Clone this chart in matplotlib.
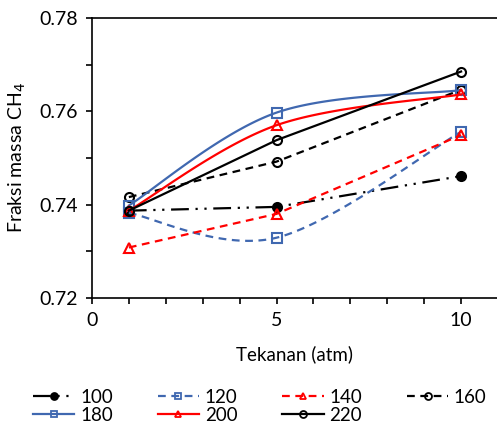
import matplotlib
matplotlib.use('Agg')
import matplotlib.pyplot as plt
import numpy as np
from matplotlib.ticker import MultipleLocator

plt.rcParams['font.family'] = ['Lato', 'DejaVu Sans']
plt.rcParams['font.size'] = 13

# pressure (atm)
x = [1, 5, 10]

# mass fraction CH4 per series
y100 = [0.7387, 0.7395, 0.7461]
y120 = [0.7382, 0.7329, 0.7556]
y140 = [0.7308, 0.7380, 0.7549]
y160 = [0.7416, 0.7492, 0.7646]
y180 = [0.7398, 0.7597, 0.7645]
y200 = [0.7387, 0.7570, 0.7636]
y220 = [0.7387, 0.7538, 0.7685]

blue = '#4068B0'
red = '#FF0000'


def smooth(xs, ys, n=60):
    # excel-like smoothed line (bezier through points)
    p = np.column_stack([xs, ys]).astype(float)
    out = []
    for i in range(len(p) - 1):
        p0 = p[i]
        p3 = p[i + 1]
        prev = p[i - 1] if i > 0 else p[i]
        nxt = p[i + 2] if i + 2 < len(p) else p[i + 1]
        c1 = p0 + (p3 - prev) / 6
        c2 = p3 - (nxt - p0) / 6
        t = np.linspace(0, 1, n)[:, None]
        seg = ((1 - t) ** 3 * p0 + 3 * (1 - t) ** 2 * t * c1
               + 3 * (1 - t) * t ** 2 * c2 + t ** 3 * p3)
        out.append(seg)
    s = np.vstack(out)
    return s[:, 0], s[:, 1]


fig = plt.figure(figsize=(4.97, 4.25), dpi=100)
ax = fig.add_axes([0.185, 0.299, 0.817, 0.659])

lw = 1.6
ms = 6.5
mew = 1.5


def series(xs, ys, color, ls, marker, mfc, label, smooth_it=False):
    if smooth_it:
        sx, sy = smooth(xs, ys)
    else:
        sx, sy = xs, ys
    ax.plot(sx, sy, color=color, ls=ls, lw=lw)
    ax.plot(xs, ys, ls='none', marker=marker, ms=ms, mew=mew,
            mec=color, mfc=mfc)
    h, = ax.plot([], [], color=color, ls=ls, lw=lw, marker=marker,
                 ms=5, mew=1.3, mec=color, mfc=mfc, label=label)
    return h


dashdotdot = (0, (8, 3, 1, 3, 1, 3))
dash = (0, (3.5, 2.5))

h100 = series(x, y100, 'black', dashdotdot, 'o', 'black', '100')
h120 = series(x, y120, blue, dash, 's', 'none', '120', True)
h140 = series(x, y140, red, dash, '^', 'none', '140')
h160 = series(x, y160, 'black', dash, 'o', 'none', '160')
h180 = series(x, y180, blue, '-', 's', 'none', '180', True)
h200 = series(x, y200, red, '-', '^', 'none', '200', True)
h220 = series(x, y220, 'black', '-', 'o', 'none', '220')

ax.set_xlim(0, 11)
ax.set_ylim(0.72, 0.78)
ax.xaxis.set_major_locator(MultipleLocator(5))
ax.xaxis.set_minor_locator(MultipleLocator(1))
ax.yaxis.set_major_locator(MultipleLocator(0.02))
ax.yaxis.set_minor_locator(MultipleLocator(0.01))
ax.yaxis.set_major_formatter(matplotlib.ticker.FormatStrFormatter('%.2f'))
ax.tick_params(which='both', direction='out', length=4, width=1.2,
               color='black', labelsize=14, pad=6)
for sp in ax.spines.values():
    sp.set_linewidth(1.2)

ax.set_xlabel('Tekanan (atm)', fontsize=13.5, labelpad=12)
ax.set_ylabel('Fraksi massa CH$_4$', fontsize=14, labelpad=8)

handles = [h100, h180, h120, h200, h140, h220, h160]
fig.legend(handles=handles, labels=[h.get_label() for h in handles],
           ncol=4, loc='lower center', bbox_to_anchor=(0.523, -0.037),
           frameon=False, fontsize=13.5, handlelength=2.2, handletextpad=0.3,
           columnspacing=2.4, labelspacing=0.05)

fig.savefig('out.png', dpi=100)
